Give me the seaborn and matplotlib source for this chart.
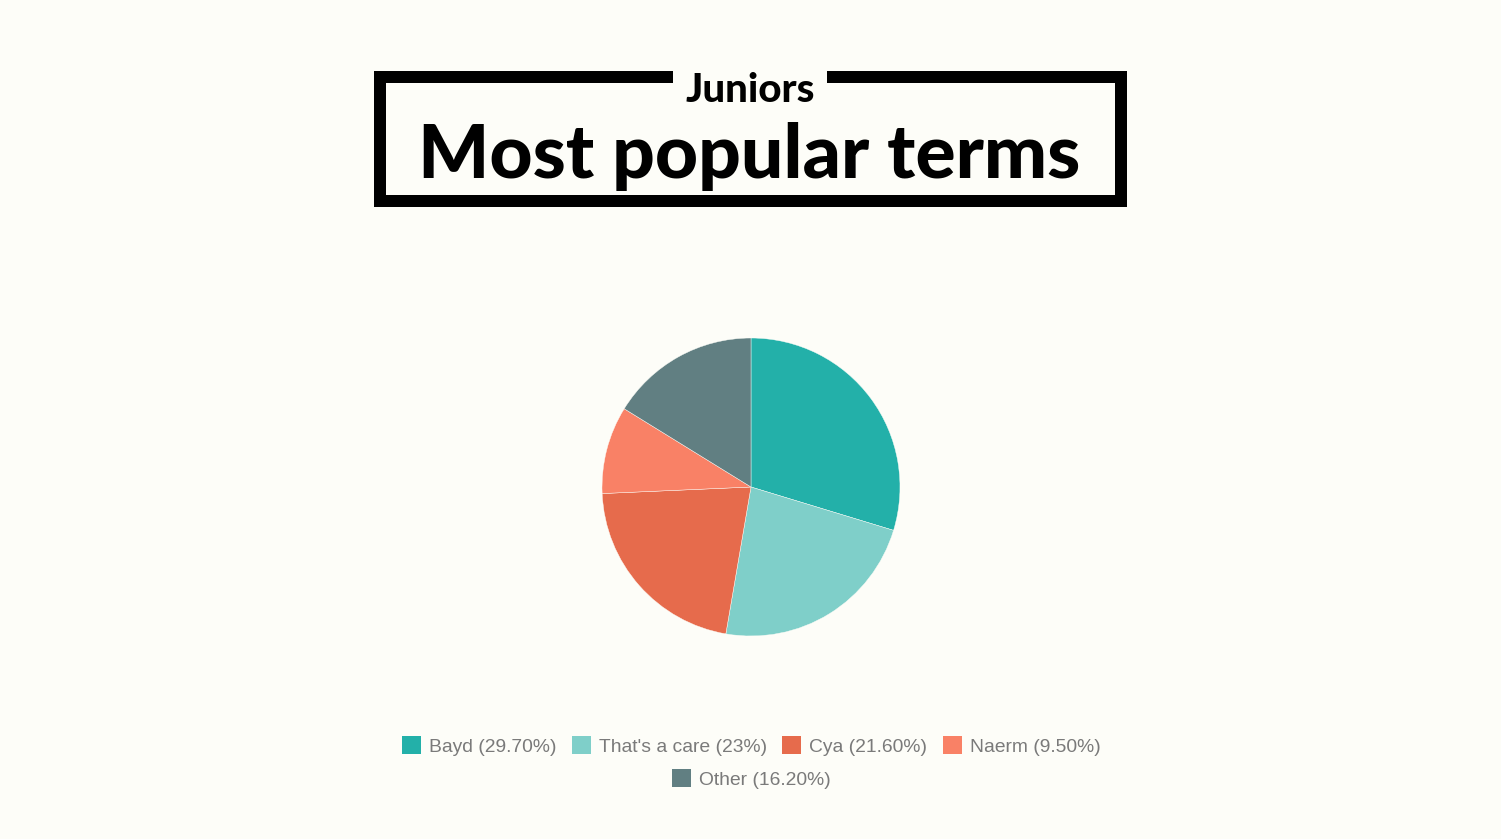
import matplotlib
matplotlib.use("Agg")
import matplotlib.pyplot as plt
import seaborn as sns
from matplotlib.lines import Line2D
from matplotlib.patches import Patch

labels = ["Bayd", "That's a care", "Cya", "Naerm", "Other"]
pct_text = ["29.70%", "23%", "21.60%", "9.50%", "16.20%"]
values = [29.7, 23.0, 21.6, 9.5, 16.2]
colors = ["#23b0a9", "#7fcfc9", "#e66b4c", "#f98166", "#617f82"]

BG = "#fdfdf8"
sns.set_theme(style="white")
plt.rcParams["font.family"] = ["Liberation Sans", "DejaVu Sans"]

W, H = 1501, 839
fig = plt.figure(figsize=(W / 100, H / 100), dpi=100, facecolor=BG)

# pie
cx, cy, r = 751, 487, 149
ax = fig.add_axes([(cx - r) / W, (H - cy - r) / H, 2 * r / W, 2 * r / H])
ax.set_facecolor(BG)
wedges, _ = ax.pie(values, colors=colors, startangle=90, counterclock=False,
                   radius=1, wedgeprops=dict(linewidth=0.3, edgecolor=BG))
ax.set_xlim(-1, 1)
ax.set_ylim(-1, 1)
ax.set_aspect("equal")
ax.axis("off")

# title box
def fx(x):
    return x / W

def fy(y):
    return 1 - y / H

lw = 12 * 72 / 100
x0, x1, y0, y1 = 380, 1121, 77, 201
gap0, gap1 = 673, 827
for xs, ys in [([x0, gap0], [y0, y0]), ([gap1, x1], [y0, y0]),
               ([x0, x1], [y1, y1]), ([x0, x0], [y0 - 6, y1 + 6]),
               ([x1, x1], [y0 - 6, y1 + 6])]:
    fig.add_artist(Line2D([fx(v) for v in xs], [fy(v) for v in ys],
                          color="black", linewidth=lw, solid_capstyle="butt"))

fig.text(fx(750), fy(102), "Juniors", ha="center", va="baseline",
         fontsize=29, fontweight="black", family=["Lato", "DejaVu Sans"], color="black")
fig.text(fx(749), fy(178), "Most popular terms", ha="center", va="baseline",
         fontsize=54, fontweight="black", family=["Lato", "DejaVu Sans"], color="black")

# legends
handles = [Patch(facecolor=c, edgecolor="none") for c in colors]
texts = [f"{l} ({p})" for l, p in zip(labels, pct_text)]
common = dict(frameon=False, fontsize=13.9, handlelength=1.0, handleheight=1.0,
              handletextpad=0.4, columnspacing=0.8, labelcolor="#7a7a7a",
              borderaxespad=0, borderpad=0)
leg1 = fig.legend(handles[:4], texts[:4], ncol=4, loc="center",
                  bbox_to_anchor=(fx(751), fy(746)), **common)
leg2 = fig.legend(handles[4:], texts[4:], ncol=1, loc="center",
                  bbox_to_anchor=(fx(751), fy(779)), **common)

fig.savefig("out.png", dpi=100, facecolor=BG)
